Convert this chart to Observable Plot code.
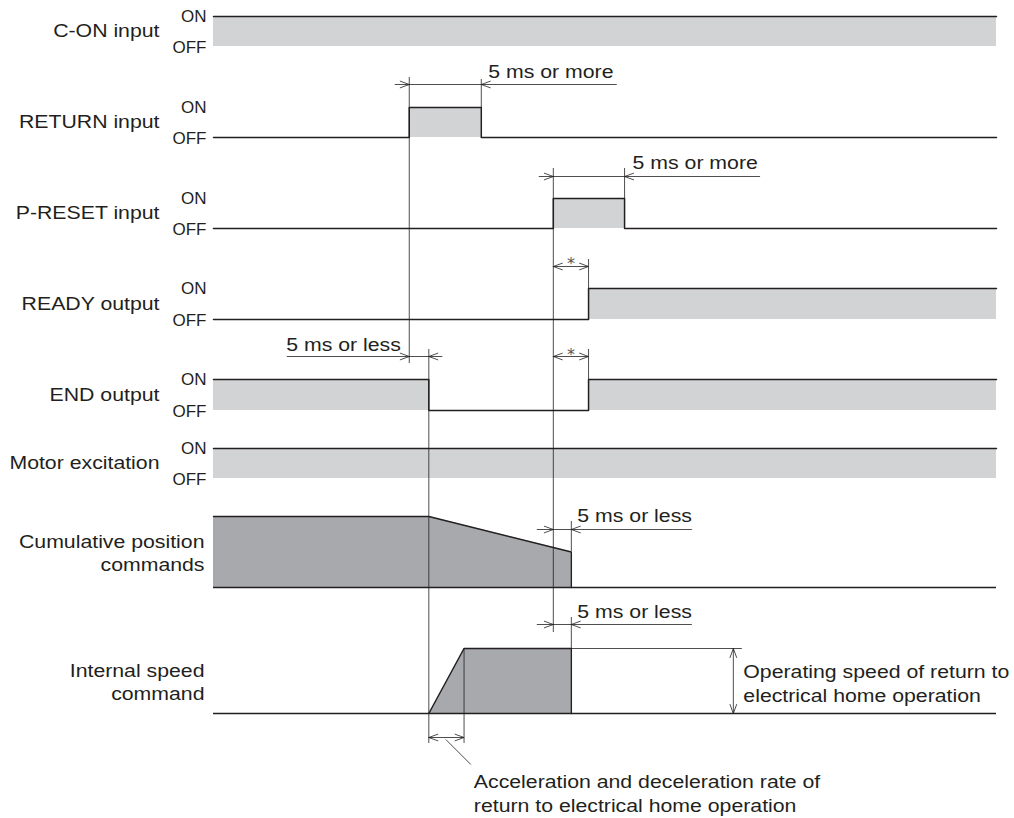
<!DOCTYPE html>
<html>
<head>
<meta charset="utf-8">
<script src="https://cdn.jsdelivr.net/npm/d3@7"></script>
<script src="https://cdn.jsdelivr.net/npm/@observablehq/plot@0.6"></script>
<style>
  html, body { margin: 0; padding: 0; background: #fff; }
</style>
</head>
<body>
<div id="chart"></div>
<script>
// ---------------- DATA ----------------
// time axis in arbitrary units: 0 = start of the diagram, 100 = its end
const eventNames = ["RETURN ON", "END OFF", "speed reached", "RETURN OFF", "P-RESET ON", "commands end", "READY/END ON", "P-RESET OFF"];
const eventTimes = [25, 27.5, 32, 34.2, 43.4, 45.7, 47.9, 52.5];
const [tReturnOn, tEndOff, tAccelDone, tReturnOff, tPresetOn, tCmdDone, tReadyOn, tPresetOff] = eventTimes;
const tStart = 0, tStop = 100;

const signalNames = ["C-ON input", "RETURN input", "P-RESET input", "READY output", "END output", "Motor excitation"];
const analogNames = ["Cumulative position\ncommands", "Internal speed\ncommand"];
const levelLabels = ["ON", "OFF"];

// digital waveforms: [time, level] (1 = ON, 0 = OFF)
const cOnWave    = [[tStart, 1], [tStop, 1]];
const returnWave = [[tStart, 0], [tReturnOn, 0], [tReturnOn, 1], [tReturnOff, 1], [tReturnOff, 0], [tStop, 0]];
const presetWave = [[tStart, 0], [tPresetOn, 0], [tPresetOn, 1], [tPresetOff, 1], [tPresetOff, 0], [tStop, 0]];
const readyWave  = [[tStart, 0], [tReadyOn, 0], [tReadyOn, 1], [tStop, 1]];
const endWave    = [[tStart, 1], [tEndOff, 1], [tEndOff, 0], [tReadyOn, 0], [tReadyOn, 1], [tStop, 1]];
const motorWave  = [[tStart, 1], [tStop, 1]];
const digitalWaves = [cOnWave, returnWave, presetWave, readyWave, endWave, motorWave];

// analog waveforms: [time, relative level]
const positionWave = [[tStart, 1], [tEndOff, 1], [tCmdDone, 0.5], [tCmdDone, 0]];
const speedWave    = [[tEndOff, 0], [tAccelDone, 1], [tCmdDone, 1], [tCmdDone, 0]];

const dimLabels = ["5 ms or more", "5 ms or more", "5 ms or less", "5 ms or less", "5 ms or less"];
const starLabel = "*";
const noteLabels = ["Operating speed of return to\nelectrical home operation",
                    "Acceleration and deceleration rate of\nreturn to electrical home operation"];

// ---------------- LAYOUT ----------------
const W = 1014, H = 818;
const X0 = 213, X1 = 996;
const pxPerUnit = (X1 - X0) / (tStop - tStart);
const u = px => px / pxPerUnit;           // pixel length -> time units
const ink = "#231f20", light = "#d1d3d4", dark = "#a7a9ac";
const font = "'Liberation Sans', Arial, Helvetica, sans-serif";

const rowLayout = [
  {on: 16, off: 46}, {on: 107, off: 137}, {on: 198, off: 228},
  {on: 288, off: 319}, {on: 379, off: 410}, {on: 448, off: 478}
];
const analogLayout = [{top: 516, base: 587}, {top: 648, base: 713}];
const yLevel = (row, v) => row.off + (row.on - row.off) * v;
const yAnalog = (row, v) => row.base + (row.top - row.base) * v;

// ---------------- MARKS ----------------
const marks = [];

// digital signals
digitalWaves.forEach((wave, i) => {
  const row = rowLayout[i];
  const pts = wave.map(([t, v]) => ({t, y: yLevel(row, v), y0: row.off}));
  marks.push(Plot.area(pts, {x1: "t", y1: "y0", y2: "y", fill: light}));
  marks.push(Plot.line(pts, {x: "t", y: "y", stroke: ink, strokeWidth: 1.5}));
});

// analog signals
[positionWave, speedWave].forEach((wave, i) => {
  const row = analogLayout[i];
  const pts = wave.map(([t, v]) => ({t, y: yAnalog(row, v), y0: row.base}));
  marks.push(Plot.area(pts, {x1: "t", y1: "y0", y2: "y", fill: dark}));
  marks.push(Plot.line(pts, {x: "t", y: "y", stroke: ink, strokeWidth: 1.4}));
  marks.push(Plot.ruleY([{y: row.base}], {y: "y", x1: tStart, x2: tStop, stroke: ink, strokeWidth: 1.5}));
});

// thin extension of the operating-speed level
marks.push(Plot.ruleY([{y: analogLayout[1].top}], {y: "y", x1: tCmdDone, x2: tCmdDone + u(171), stroke: ink, strokeWidth: 0.8}));

// vertical guide lines
const guides = [
  {t: tReturnOn, y1: 77, y2: 363},
  {t: tEndOff, y1: 349, y2: 743},
  {t: tAccelDone, y1: 648, y2: 743},
  {t: tReturnOff, y1: 79, y2: 107},
  {t: tPresetOn, y1: 168, y2: 632},
  {t: tPresetOff, y1: 168, y2: 198},
  {t: tReadyOn, y1: 259, y2: 288},
  {t: tReadyOn, y1: 349, y2: 379},
  {t: tCmdDone, y1: 521, y2: 551},
  {t: tCmdDone, y1: 617, y2: 648}
];
marks.push(Plot.ruleX(guides, {x: "t", y1: "y1", y2: "y2", stroke: ink, strokeWidth: 0.8}));

// dimension lines with arrowheads
const dims = [
  {from: tReturnOn - u(14), to: tReturnOff + u(136), y: 84, heads: [[tReturnOn, 1], [tReturnOff, -1]]},
  {from: tPresetOn - u(14), to: tPresetOff + u(136), y: 176, heads: [[tPresetOn, 1], [tPresetOff, -1]]},
  {from: tPresetOn, to: tReadyOn, y: 266, heads: [[tPresetOn, -1], [tReadyOn, 1]]},
  {from: tReturnOn - u(122), to: tEndOff + u(14), y: 356, heads: [[tReturnOn, 1], [tEndOff, -1]]},
  {from: tPresetOn, to: tReadyOn, y: 356, heads: [[tPresetOn, -1], [tReadyOn, 1]]},
  {from: tPresetOn - u(16), to: tCmdDone + u(121), y: 529, heads: [[tPresetOn, 1], [tCmdDone, -1]]},
  {from: tPresetOn - u(16), to: tCmdDone + u(121), y: 624, heads: [[tPresetOn, 1], [tCmdDone, -1]]},
  {from: tEndOff, to: tAccelDone, y: 737, heads: [[tEndOff, -1], [tAccelDone, 1]]}
];
marks.push(Plot.ruleY(dims, {y: "y", x1: "from", x2: "to", stroke: ink, strokeWidth: 0.8}));

const headLen = 9, headHalf = 3.3;
const headPts = [];
let hid = 0;
dims.forEach(d => d.heads.forEach(([t, dir]) => {
  hid++;
  headPts.push({id: hid, t: t - dir * u(headLen), y: d.y - headHalf},
               {id: hid, t, y: d.y},
               {id: hid, t: t - dir * u(headLen), y: d.y + headHalf});
}));
// vertical operating-speed arrow
const tSpeedArrow = tCmdDone + u(162);
const sp = analogLayout[1];
marks.push(Plot.ruleX([{t: tSpeedArrow}], {x: "t", y1: sp.top, y2: sp.base, stroke: ink, strokeWidth: 0.8}));
[[sp.top, -1], [sp.base, 1]].forEach(([y, dir]) => {
  hid++;
  headPts.push({id: hid, t: tSpeedArrow - u(headHalf), y: y - dir * headLen},
               {id: hid, t: tSpeedArrow, y},
               {id: hid, t: tSpeedArrow + u(headHalf), y: y - dir * headLen});
});
marks.push(Plot.line(headPts, {x: "t", y: "y", z: "id", stroke: ink, strokeWidth: 0.8}));

// leader line to acceleration note
marks.push(Plot.link([{x1: tEndOff + u(17), y1: 739, x2: tEndOff + u(42), y2: 764}],
  {x1: "x1", y1: "y1", x2: "x2", y2: "y2", stroke: ink, strokeWidth: 0.8}));

// ---------------- TEXT ----------------
const rowText = signalNames.map((label, i) => ({label, t: tStart, y: (rowLayout[i].on + rowLayout[i].off) / 2}));
marks.push(Plot.text(rowText, {x: "t", y: "y", text: "label", textAnchor: "end", dx: -54, fontSize: 18.5, fill: ink, fontFamily: font}));

const analogText = analogNames.map((label, i) => ({label, t: tStart, y: (analogLayout[i].top + analogLayout[i].base) / 2}));
marks.push(Plot.text(analogText, {x: "t", y: "y", text: "label", textAnchor: "end", dx: -9, lineHeight: 1.27, fontSize: 18.5, fill: ink, fontFamily: font}));

const levelText = [];
rowLayout.forEach(r => {
  levelText.push({label: levelLabels[0], t: tStart, y: r.on});
  levelText.push({label: levelLabels[1], t: tStart, y: r.off + 1});
});
marks.push(Plot.text(levelText, {x: "t", y: "y", text: "label", textAnchor: "end", dx: -7, fontSize: 17, fill: ink, fontFamily: font}));

const dimText = [
  {label: dimLabels[0], t: tReturnOff + u(7), y: 77},
  {label: dimLabels[1], t: tPresetOff + u(8), y: 168},
  {label: dimLabels[2], t: tReturnOn - u(123), y: 350},
  {label: dimLabels[3], t: tCmdDone + u(6), y: 521},
  {label: dimLabels[4], t: tCmdDone + u(6), y: 617}
];
marks.push(Plot.text(dimText, {x: "t", y: "y", text: "label", textAnchor: "start", lineAnchor: "bottom", fontSize: 18.5, fill: ink, fontFamily: font}));

const starText = [
  {label: starLabel, t: (tPresetOn + tReadyOn) / 2, y: 268},
  {label: starLabel, t: (tPresetOn + tReadyOn) / 2, y: 359}
];
marks.push(Plot.text(starText, {x: "t", y: "y", text: "label", textAnchor: "middle", lineAnchor: "bottom", fontSize: 16, fill: "#555", fontFamily: "'DejaVu Sans', sans-serif"}));

const noteText = [
  {label: noteLabels[0], t: tSpeedArrow + u(10), y: 681.5},
  {label: noteLabels[1], t: tEndOff + u(45), y: 791.5}
];
marks.push(Plot.text(noteText, {x: "t", y: "y", text: "label", textAnchor: "start", lineHeight: 1.3, fontSize: 18.5, fill: ink, fontFamily: font}));

// ---------------- PLOT ----------------
const svg = Plot.plot({
  width: W, height: H,
  marginLeft: 0, marginRight: 0, marginTop: 0, marginBottom: 0,
  x: {domain: [tStart, tStop], range: [X0, X1], axis: null},
  y: {domain: [0, H], range: [0, H], axis: null},
  style: {fontFamily: font, background: "#fff", overflow: "visible"},
  marks
});

// Helvetica in the original is set slightly wide: stretch larger text horizontally
svg.querySelectorAll("text").forEach(t => {
  const g = t.closest("[font-size]");
  const fs = g ? +g.getAttribute("font-size") : 0;
  const s = fs >= 18 ? 1.15 : 1;
  if (s !== 1) t.setAttribute("transform", (t.getAttribute("transform") || "") + ` scale(${s},1)`);
});

document.getElementById("chart").appendChild(svg);
</script>
</body>
</html>
